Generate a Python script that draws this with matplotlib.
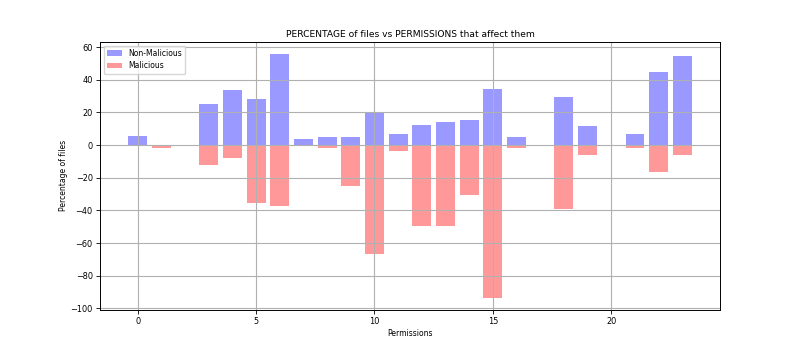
import matplotlib
matplotlib.use("Agg")
import matplotlib.pyplot as plt
import numpy as np

permissions = list(range(24))
non_malicious = [5.5, 0, 0, 25.2, 33.6, 28.5, 55.8, 3.7, 4.7, 4.7, 20.0, 7.0,
                 12.1, 14.0, 15.6, 34.5, 4.7, 0, 29.3, 11.5, 0, 7.0, 44.7, 54.3]
malicious = [0, -1.9, 0, -12.5, -8.0, -35.3, -37.2, 0, -1.6, -24.8, -66.5, -3.9,
             -49.7, -49.7, -30.8, -93.4, -1.9, 0, -39.4, -6.0, 0, -2.0, -16.4, -6.0]

fs = 5.5
plt.rcParams['font.size'] = fs
fig, ax = plt.subplots(figsize=(8, 3.48), dpi=100)
ax.bar(permissions, non_malicious, color='blue', alpha=0.4, label='Non-Malicious')
ax.bar(permissions, malicious, color='red', alpha=0.4, label='Malicious')
ax.grid(True, color='#b0b0b0', linewidth=0.8)
ax.tick_params(labelsize=5.9, length=2.8, width=0.6, pad=2.5)
for s in ax.spines.values():
    s.set_linewidth(0.7)
ax.set_title('PERCENTAGE of files vs PERMISSIONS that affect them', fontsize=6.6, pad=3.5)
ax.set_xlabel('Permissions', fontsize=fs, labelpad=2)
ax.set_ylabel('Percentage of files', fontsize=fs, labelpad=2)
ax.legend(loc='upper left', fontsize=fs)
fig.savefig('out.png', dpi=100)
